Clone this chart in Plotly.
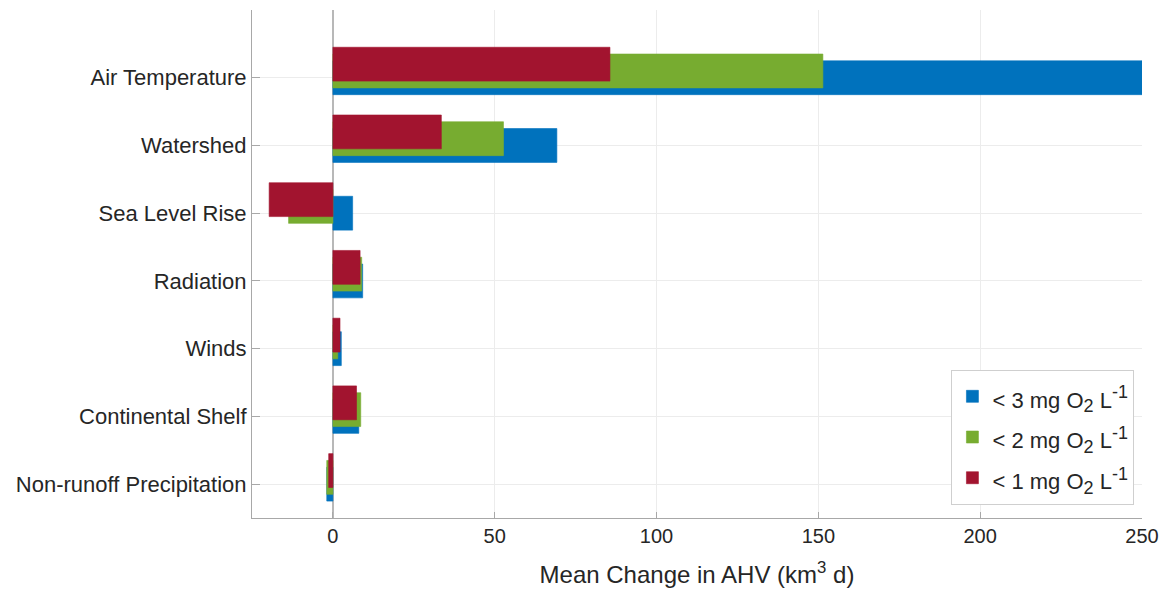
import plotly.graph_objects as go

categories = ["Non-runoff Precipitation", "Continental Shelf", "Winds", "Radiation",
              "Sea Level Rise", "Watershed", "Air Temperature"]
lt3 = [-1.9, 8.0, 2.6, 9.2, 6.1, 69.2, 250.0]
lt2 = [-1.9, 8.6, 1.5, 8.9, -13.7, 52.7, 151.4]
lt1 = [-1.3, 7.3, 2.2, 8.4, -19.7, 33.5, 85.6]
thresholds = ["3", "2", "1"]
colors = ["#0072BD", "#77AC30", "#A2142F"]
offsets = [0.0, 0.1, 0.2]
x_ticks = [0, 50, 100, 150, 200, 250]


def legend_label(t):
    return ("<span style='font-size:22px'>&lt; " + t + " mg O"
            "<sub><span style='font-size:18px'>2</span></sub> L"
            "<sup><span style='font-size:18px'>-1</span></sup></span>")


base = list(range(1, len(categories) + 1))
fig = go.Figure()
for vals, t, col, off in zip([lt3, lt2, lt1], thresholds, colors, offsets):
    fig.add_trace(go.Bar(
        x=vals, y=[b + off for b in base], orientation="h", width=0.5,
        name=legend_label(t),
        marker=dict(color=col, line=dict(width=0.6, color=col)),
    ))

font_family = "Liberation Sans, Arial, Helvetica, sans-serif"
fig.update_layout(
    width=1165, height=590,
    margin=dict(l=252, r=23, t=10, b=72),
    barmode="overlay",
    plot_bgcolor="white", paper_bgcolor="white",
    font=dict(family=font_family, size=20, color="#262626"),
    showlegend=True,
    legend=dict(x=0.9915, xanchor="right", y=0.2914, yanchor="top",
                bgcolor="white", bordercolor="#cfcfcf", borderwidth=1,
                font=dict(size=29, color="#262626"), traceorder="normal",
                itemwidth=30, tracegroupgap=0),
    xaxis=dict(range=[-25, 250], tickvals=x_ticks, showgrid=True, gridcolor="#ececec",
               zeroline=True, zerolinecolor="#b8b8b8", zerolinewidth=1.5,
               showline=True, linecolor="#a8a8a8", linewidth=1,
               ticks="inside", ticklen=6, tickcolor="#a8a8a8",
               tickfont=dict(size=20), automargin=False,
               title=dict(text="Mean Change in AHV (km<sup>3</sup> d)", font=dict(size=24), standoff=20)),
    yaxis=dict(range=[0.5, 8], tickvals=base, ticktext=categories, showgrid=True,
               gridcolor="#ececec", zeroline=False, showline=True, linecolor="#a8a8a8",
               linewidth=1, ticks="inside", ticklen=8, tickcolor="#a8a8a8",
               tickfont=dict(size=22), automargin=False),
)
fig.write_html("out.html", config={"displayModeBar": False},
               post_script="document.body.style.margin='0';")
